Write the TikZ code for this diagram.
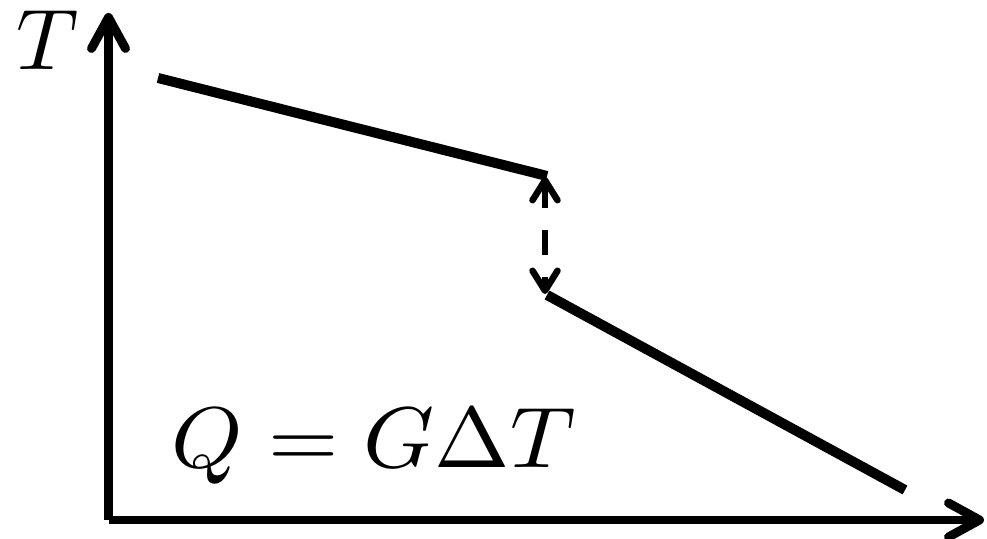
\documentclass[tikz,border=0pt]{standalone}
\usepackage{tikz}
\usetikzlibrary{arrows.meta}

\begin{document}
\begin{tikzpicture}[
    axis/.style={line width=5.1pt, -{Straight Barb[length=0.62cm, width=0.68cm, round]}},
    curve/.style={line width=5.7pt},
    jump/.style={line width=3.7pt, dash pattern=on 0.5cm off 0.44cm,
        {Straight Barb[length=0.4cm, width=0.5cm, round]}-{Straight Barb[length=0.4cm, width=0.5cm, round]}},
    label/.style={inner sep=0pt, scale=4.9}
]
\useasboundingbox (0,0) rectangle (19.74,10.78);

% Points
\coordinate (o) at (2.17,0.38);
\coordinate (ytip) at (2.17,10.52);
\coordinate (xtip) at (19.68,0.38);
\coordinate (a1) at (3.16,9.22);
\coordinate (a2) at (10.94,7.26);
\coordinate (b1) at (10.94,4.88);
\coordinate (b2) at (18.10,0.98);
\coordinate (d1) at (10.90,7.24);
\coordinate (d2) at (10.90,4.90);

% Labels
\node[label, anchor=base west] (tlab) at (0.30,9.38) {$T$};
\node[label, xscale=1.05, anchor=base west] (law) at (3.40,1.42) {$Q = G\Delta T$};

% Axes and lines
\draw[axis] (o) -- (ytip);
\draw[axis] (o) -- (xtip);
\draw[curve] (a1) -- (a2);
\draw[curve] (b1) -- (b2);
\draw[jump] (d1) -- (d2);

\end{tikzpicture}
\end{document}
